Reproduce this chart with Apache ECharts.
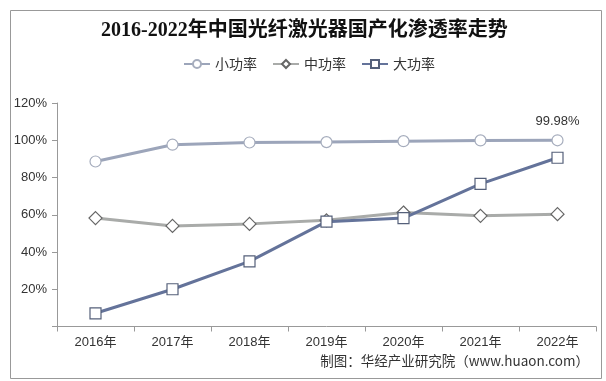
<!DOCTYPE html>
<html>
<head>
<meta charset="utf-8">
<script src="https://cdn.jsdelivr.net/npm/echarts@6/dist/echarts.min.js"></script>
<style>html,body{margin:0;padding:0;background:#fff}#c{width:606px;height:381px}</style>
</head>
<body>
<div id="c"></div>
<script>
const categories = ['2016年','2017年','2018年','2019年','2020年','2021年','2022年'];
const smallPower = [88.6, 97.6, 98.8, 99.0, 99.5, 99.9, 99.98];
const mediumPower = [58.2, 54.0, 55.1, 57.0, 61.2, 59.4, 60.3];
const largePower = [7.1, 20.0, 35.0, 56.3, 58.2, 76.6, 90.6];
const seriesNames = ['小功率','中功率','大功率'];
const yTicks = [0, 20, 40, 60, 80, 100, 120];
const title = '2016-2022年中国光纤激光器国产化渗透率走势';
const source = '制图：华经产业研究院（www.huaon.com）';

const chart = echarts.init(document.getElementById('c'), null, {renderer:'canvas'});
const lastIdx = smallPower.length - 1;
chart.setOption({
  animation: false,
  backgroundColor: '#fff',
  title: {
    text: title, left: 96, top: 16,
    textStyle: {fontFamily: '"Liberation Serif", "Noto Sans CJK SC", serif', fontSize: 20, fontWeight: 'bold', color: '#111'}
  },
  legend: {
    data: seriesNames, top: 52, left: 178, itemGap: 15, itemWidth: 26, itemHeight: 10,
    textStyle: {fontFamily: '"Noto Sans CJK SC", sans-serif', fontSize: 14, color: '#333'}
  },
  grid: {left: 57, right: 10, top: 103, bottom: 54.5, containLabel: false},
  xAxis: {
    type: 'category', data: categories, boundaryGap: true,
    axisLine: {lineStyle: {color: '#999', width: 1}},
    axisTick: {show: true, alignWithLabel: false, length: 5, lineStyle: {color: '#999'}},
    axisLabel: {fontFamily: '"Liberation Sans", "Noto Sans CJK SC", sans-serif', fontSize: 13, color: '#333', margin: 9}
  },
  yAxis: {
    type: 'value', min: 0, max: 120, interval: 20,
    axisLine: {show: true, lineStyle: {color: '#999'}},
    axisTick: {show: true, length: 5, lineStyle: {color: '#999'}},
    splitLine: {show: false},
    axisLabel: {formatter: v => yTicks.includes(v) && v > 0 ? v + '%' : '', fontFamily: '"Liberation Sans", sans-serif', fontSize: 13, color: '#333', margin: 10}
  },
  series: [
    {
      name: seriesNames[0], type: 'line', data: smallPower.map((v, i) => i === lastIdx ? {value: v, label: {show: true, position: 'top', distance: 6, formatter: '99.98%', fontFamily: '"Liberation Sans", sans-serif', fontSize: 13, color: '#333'}} : v),
      symbol: 'circle', symbolSize: 11,
      lineStyle: {color: '#9ca5ba', width: 3}, itemStyle: {color: '#fff', borderColor: '#a6adbd', borderWidth: 1.2}, z: 3
    },
    {
      name: seriesNames[1], type: 'line', data: mediumPower,
      symbol: 'diamond', symbolSize: 13,
      lineStyle: {color: '#a9aba9', width: 3}, itemStyle: {color: '#fff', borderColor: '#666', borderWidth: 1.2}, z: 2
    },
    {
      name: seriesNames[2], type: 'line', data: largePower,
      symbol: 'rect', symbolSize: 11,
      lineStyle: {color: '#64739a', width: 3}, itemStyle: {color: '#fff', borderColor: '#55607a', borderWidth: 1.2}, z: 4
    }
  ],
  graphic: [
    {type: 'rect', shape: {x: 10.5, y: 10.5, width: 591, height: 368}, style: {fill: 'none', stroke: '#999', lineWidth: 1}, silent: true, z: -1},
    {type: 'text', right: 17, top: 354, style: {text: source, font: '13.5px "Noto Sans CJK SC", sans-serif', fill: '#333'}}
  ]
});
</script>
</body>
</html>
